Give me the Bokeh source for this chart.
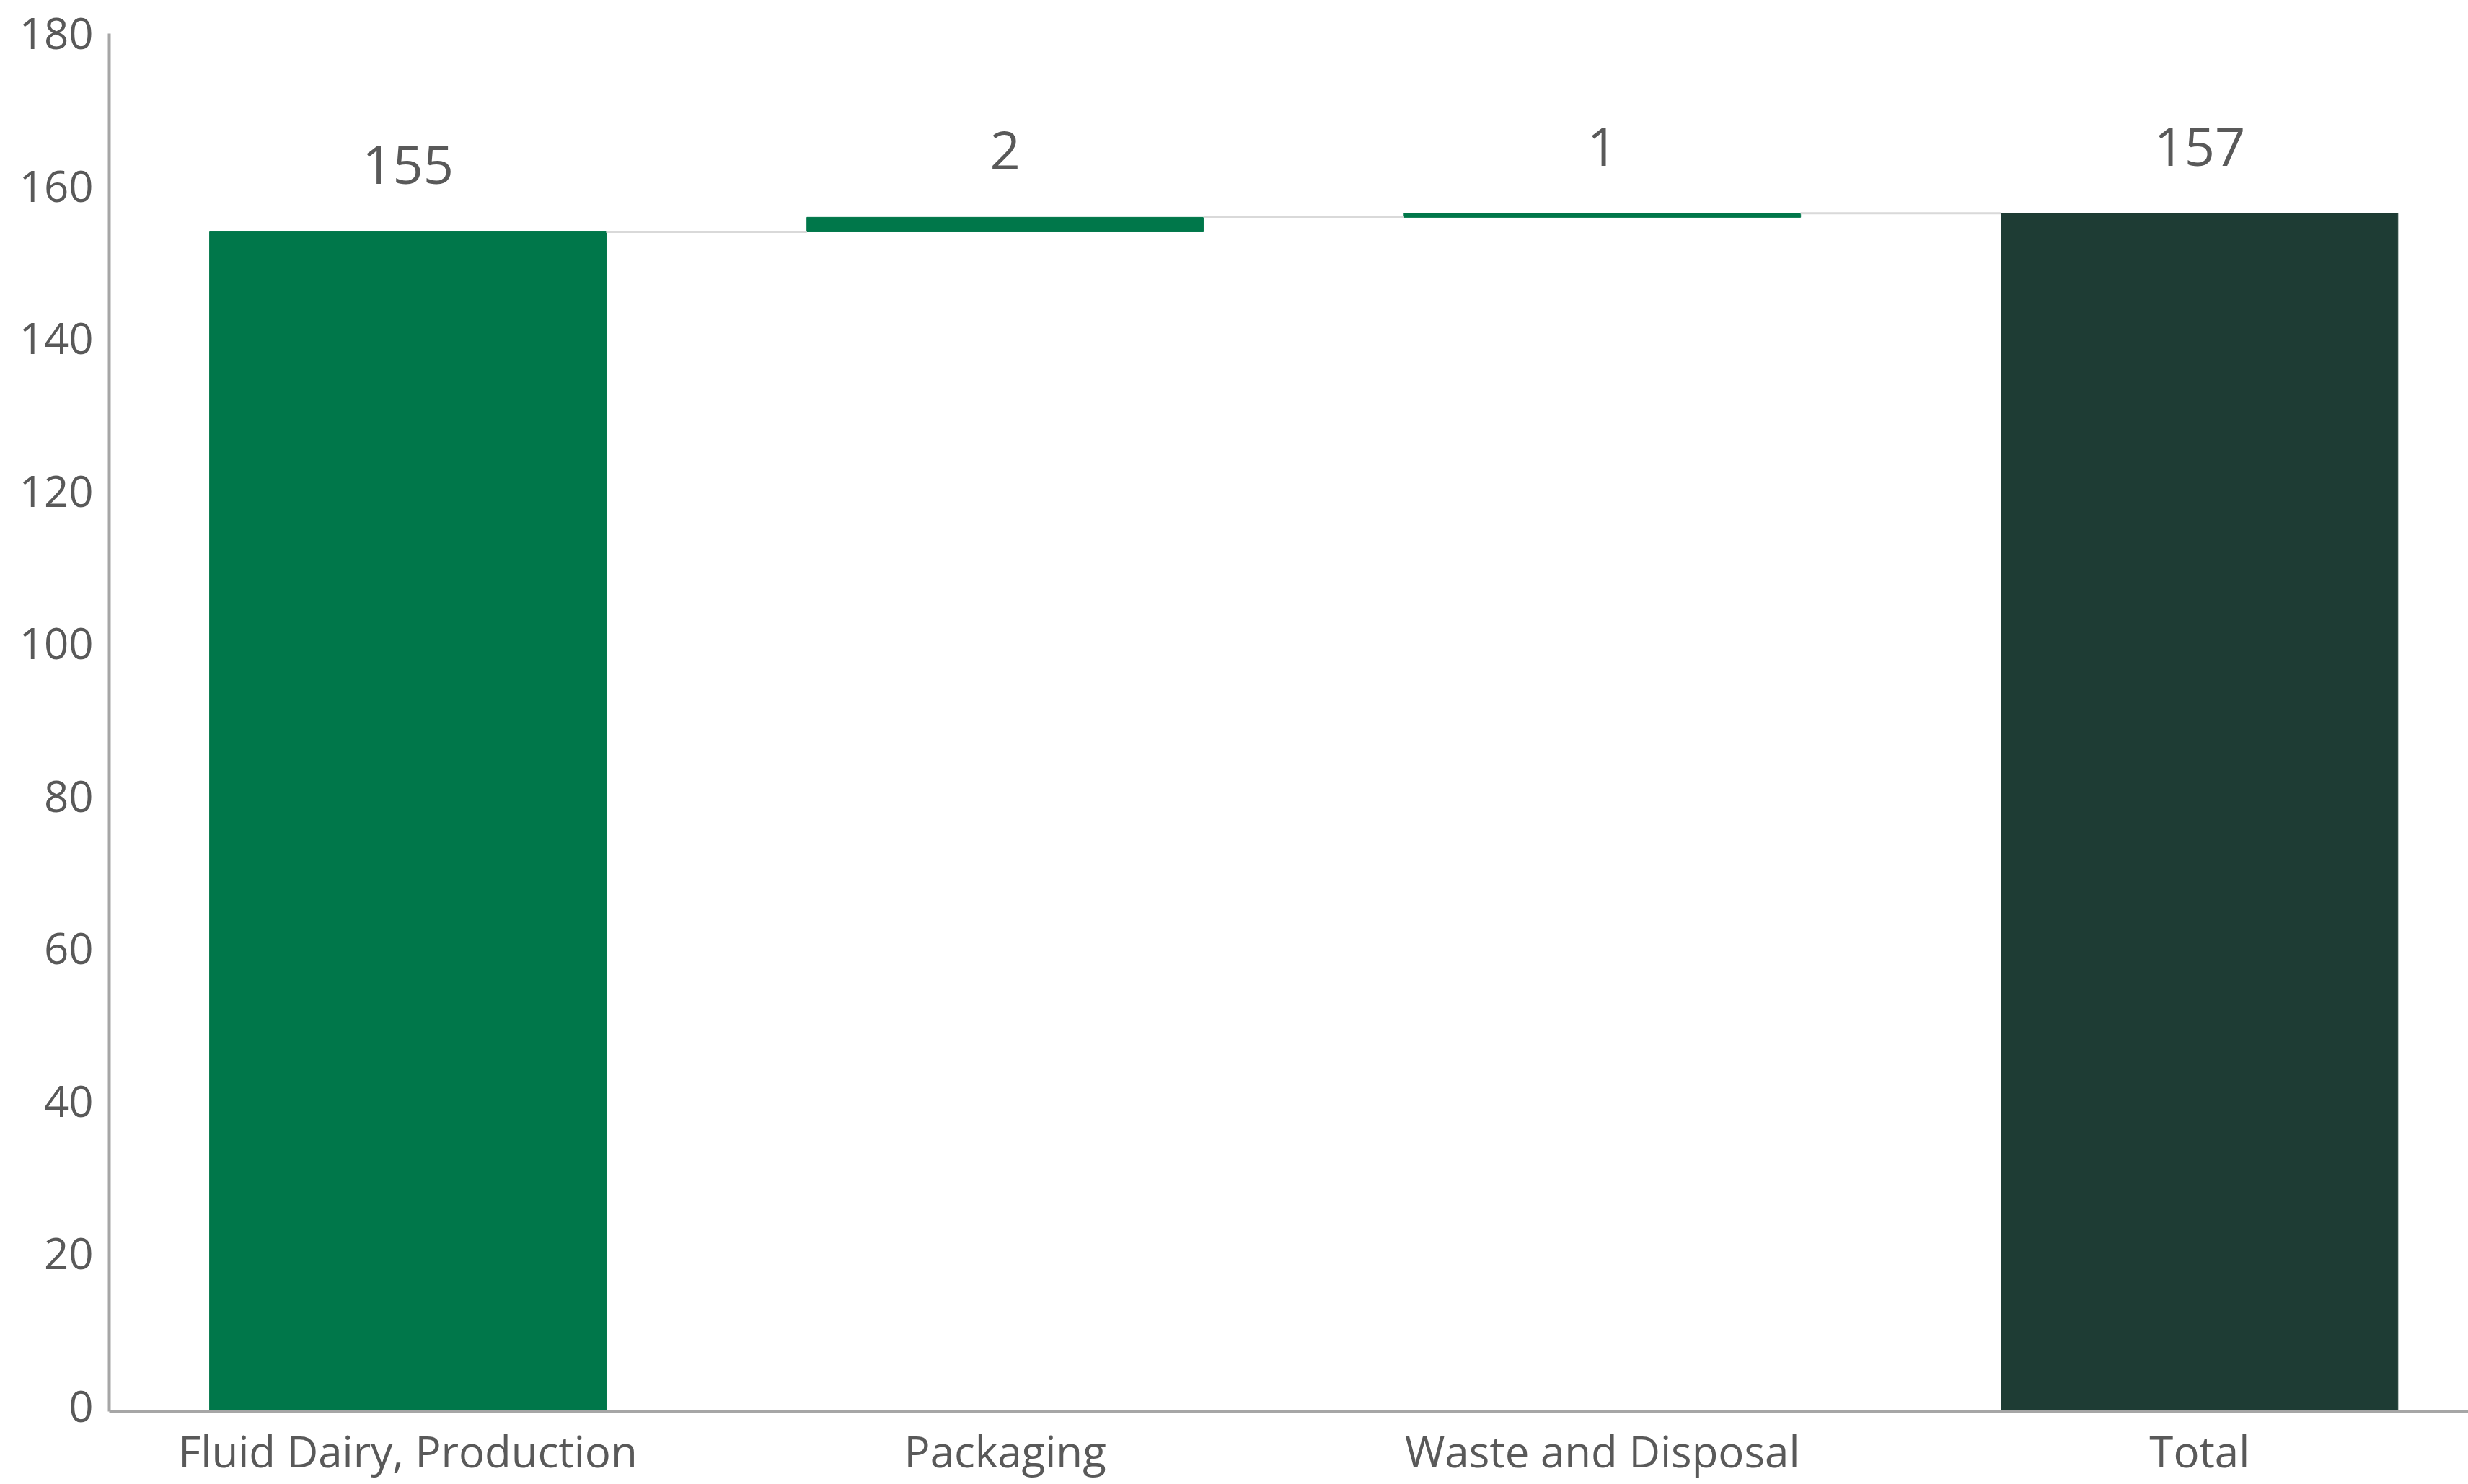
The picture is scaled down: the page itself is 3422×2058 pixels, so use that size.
from bokeh.plotting import figure
from bokeh.models import Range1d, FixedTicker, ColumnDataSource, LabelSet, LinearAxis
from bokeh.core.properties import value
from bokeh.embed import file_html
from bokeh.resources import INLINE

# ---- data ----
categories = ["Fluid Dairy, Production", "Packaging", "Waste and Disposal", "Total"]
step_values = [154.7, 1.9, 0.52]
y_ticks = [0, 20, 40, 60, 80, 100, 120, 140, 160, 180]
step_color = "#00774A"
total_color = "#1E3C34"

# ---- waterfall geometry derived from data ----
bottoms, tops, label_txt = [], [], []
cum = 0.0
for v in step_values:
    bottoms.append(cum)
    cum += v
    tops.append(cum)
    label_txt.append(str(int(v + 0.5)))
bottoms.append(0.0)
tops.append(cum)
label_txt.append(str(int(cum + 0.5)))

xs = list(range(len(categories)))
colors = [step_color] * len(step_values) + [total_color]
bar_w = 0.664

src = ColumnDataSource(dict(
    x=xs, bottom=bottoms, top=tops, color=colors,
    label_y=[max(b, t) for b, t in zip(bottoms, tops)], label=label_txt,
))

# label range shifted slightly so tick text sits a little above each value
lab_shift = 0.7
p = figure(width=3422, height=2058, output_backend="svg", toolbar_location=None,
           x_range=Range1d(-0.5, 3.45), y_range=Range1d(0, 180 + lab_shift),
           min_border_left=151, min_border_right=0, min_border_top=46,
           min_border_bottom=101, y_axis_location=None)
p.extra_y_ranges = {"lab": Range1d(-lab_shift, 180)}
p.outline_line_color = None
p.xgrid.visible = False
p.ygrid.visible = False
p.background_fill_color = "white"
p.border_fill_color = "white"

p.vbar(x="x", bottom="bottom", top="top", width=bar_w, color="color", source=src)

# connectors
cx0 = [xs[i] + bar_w / 2 for i in range(len(categories) - 1)]
cx1 = [xs[i + 1] - bar_w / 2 for i in range(len(categories) - 1)]
cy = [tops[i] for i in range(len(categories) - 1)]
p.segment(x0=cx0, y0=cy, x1=cx1, y1=cy, line_color="#D9D9D9", line_width=3)

labels = LabelSet(x="x", y="label_y", text="label", source=src,
                  text_align="center", text_baseline="alphabetic", y_offset=66,
                  text_font=value("Open Sans"), text_font_size="74px",
                  text_color="#595959")
p.add_layout(labels)

yax = LinearAxis(y_range_name="lab", ticker=FixedTicker(ticks=y_ticks))
p.add_layout(yax, "left")

# axes
p.xaxis.ticker = FixedTicker(ticks=xs)
p.xaxis.major_label_overrides = {i: c for i, c in zip(xs, categories)}
for ax in (p.xaxis[0], yax):
    ax.axis_line_color = "#A6A6A6"
    ax.axis_line_width = 4
    ax.major_tick_line_color = None
    ax.minor_tick_line_color = None
    ax.major_label_text_font = "Open Sans"
    ax.major_label_text_font_size = "60px"
    ax.major_label_text_color = "#595959"
p.xaxis.major_label_standoff = 7
yax.major_label_standoff = 16

open("out.html", "w").write(file_html(p, INLINE))
